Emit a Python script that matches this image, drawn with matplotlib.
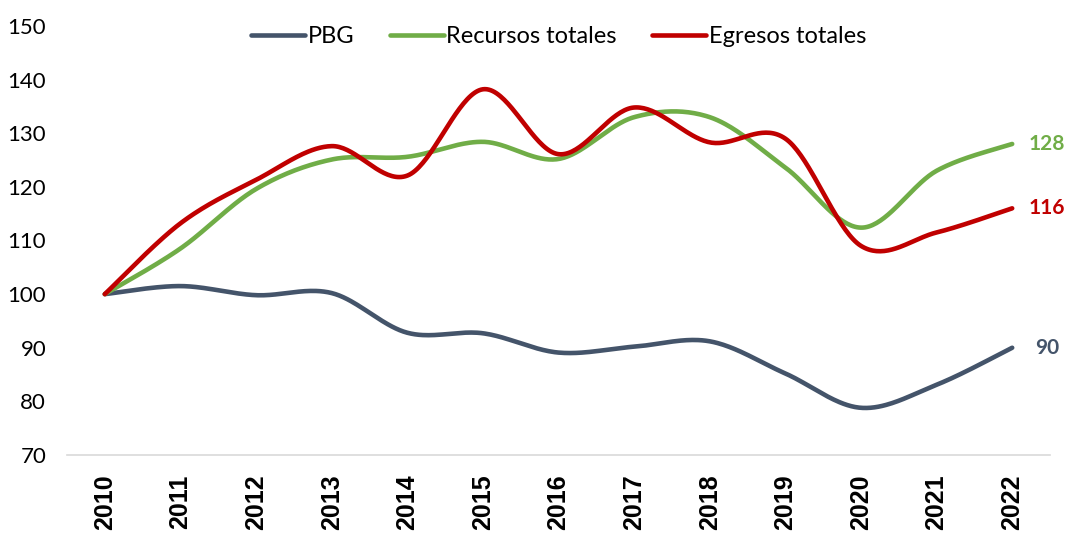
import numpy as np
import matplotlib
matplotlib.use("Agg")
import matplotlib.pyplot as plt

years = [2010, 2011, 2012, 2013, 2014, 2015, 2016, 2017, 2018, 2019, 2020, 2021, 2022]
pbg = [100, 101.5, 99.8, 100.2, 92.8, 92.7, 89.1, 90.2, 91.2, 85.2, 78.8, 83.1, 90]
recursos = [100, 108.5, 119.6, 125.1, 125.6, 128.4, 125.2, 133.0, 133.0, 123.6, 112.4, 123.0, 128]
egresos = [100, 113.2, 121.3, 127.6, 122.1, 138.2, 126.1, 134.8, 128.3, 129.0, 109.0, 111.5, 116]
end_labels = ["90", "128", "116"]
names = ["PBG", "Recursos totales", "Egresos totales"]
colors = ["#44546A", "#70AD47", "#C00000"]
label_offsets = [16.5, 11.5, 11.5]


def smooth(x, y, n=40):
    x = np.asarray(x, float)
    y = np.asarray(y, float)
    px = np.concatenate([[x[0]], x, [x[-1]]])
    py = np.concatenate([[y[0]], y, [y[-1]]])
    xs, ys = [], []
    t = np.linspace(0, 1, n)
    for i in range(1, len(px) - 2):
        p0 = np.array([px[i - 1], py[i - 1]])
        p1 = np.array([px[i], py[i]])
        p2 = np.array([px[i + 1], py[i + 1]])
        p3 = np.array([px[i + 2], py[i + 2]])
        c1 = p1 + (p2 - p0) / 6
        c2 = p2 - (p3 - p1) / 6
        b = ((1 - t) ** 3)[:, None] * p1 + (3 * (1 - t) ** 2 * t)[:, None] * c1 \
            + (3 * (1 - t) * t ** 2)[:, None] * c2 + (t ** 3)[:, None] * p2
        xs.extend(b[:, 0])
        ys.extend(b[:, 1])
    return np.array(xs), np.array(ys)


fig = plt.figure(figsize=(10.67, 5.33), dpi=100)
ax = fig.add_axes([67 / 1067, 1 - 455 / 533, (1050 - 67) / 1067, (455 - 26) / 533])

for series, name, col, lab, off in zip([pbg, recursos, egresos], names, colors, end_labels, label_offsets):
    sx, sy = smooth(years, series)
    ax.plot(sx, sy, color=col, lw=3.3, solid_capstyle="round", label=name)
    ax.annotate(lab, (years[-1], series[-1]), xytext=(off, 0), textcoords="offset points",
                color=col, fontsize=15, fontweight="bold", family="Lato", va="center", ha="left",
                annotation_clip=False)

ax.set_xlim(2009.5, 2022.5)
ax.set_ylim(70, 150)
ax.set_yticks(range(70, 151, 10))
ax.set_xticks(years)
ax.set_xticklabels([str(y) for y in years], rotation=90, fontsize=18, fontweight="bold",
                   family="Liberation Sans")
for lbl in ax.get_yticklabels():
    lbl.set_fontsize(16)
    lbl.set_family("Lato")
ax.tick_params(axis="both", length=0)
ax.tick_params(axis="y", pad=15)
ax.tick_params(axis="x", pad=14)
for s in ["top", "right", "left"]:
    ax.spines[s].set_visible(False)
ax.spines["bottom"].set_color("#D9D9D9")
ax.spines["bottom"].set_linewidth(1.2)

leg = ax.legend(loc="upper center", bbox_to_anchor=(0.5, 1.05), ncol=3, frameon=False,
                prop={"family": "Lato", "size": 17}, handlelength=2.3, handletextpad=0.1,
                columnspacing=1.5)

fig.savefig("out.png", dpi=100)
